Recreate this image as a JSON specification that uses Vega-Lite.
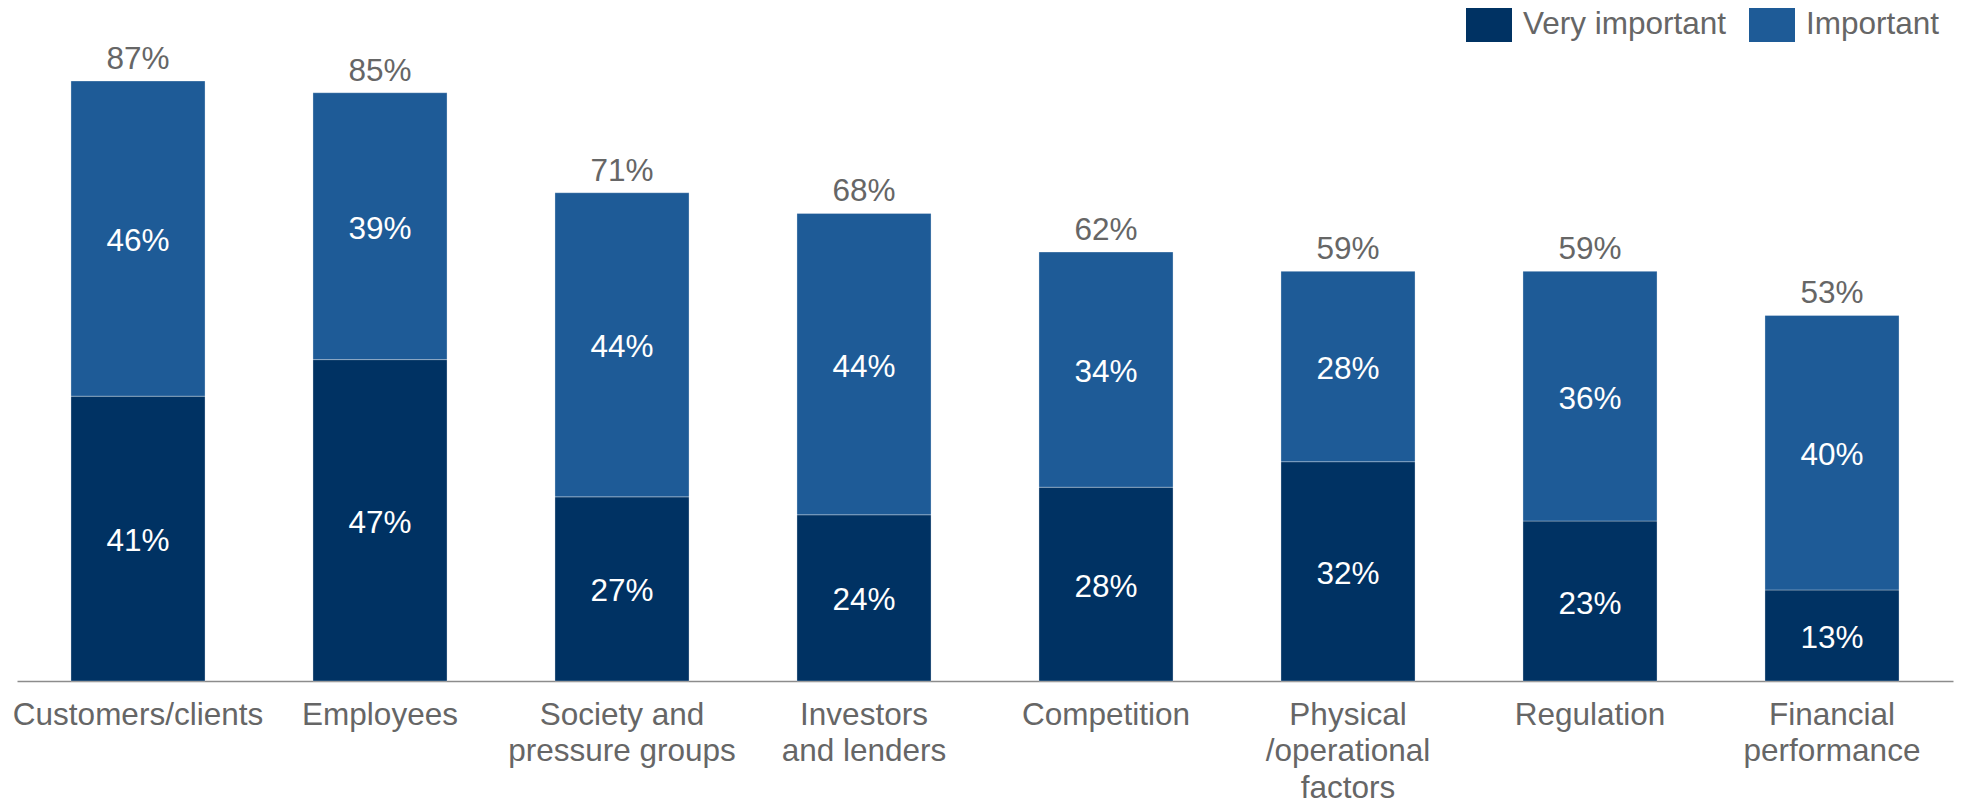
{
  "$schema": "https://vega.github.io/schema/vega-lite/v6.json",
  "width": 1936,
  "height": 600,
  "autosize": {"type": "none"},
  "padding": {"left": 17, "top": 81, "right": 9, "bottom": 122},
  "background": "white",
  "config": {"view": {"stroke": null}, "font": "Liberation Sans"},
  "data": {
    "values": [
      {"category": "Customers/clients", "level": "Very important", "rank": 1, "value": 0.413},
      {"category": "Customers/clients", "level": "Important", "rank": 2, "value": 0.457},
      {"category": "Employees", "level": "Very important", "rank": 1, "value": 0.466},
      {"category": "Employees", "level": "Important", "rank": 2, "value": 0.387},
      {"category": "Society and pressure groups", "level": "Very important", "rank": 1, "value": 0.267},
      {"category": "Society and pressure groups", "level": "Important", "rank": 2, "value": 0.441},
      {"category": "Investors and lenders", "level": "Very important", "rank": 1, "value": 0.241},
      {"category": "Investors and lenders", "level": "Important", "rank": 2, "value": 0.437},
      {"category": "Competition", "level": "Very important", "rank": 1, "value": 0.281},
      {"category": "Competition", "level": "Important", "rank": 2, "value": 0.341},
      {"category": "Physical/operational factors", "level": "Very important", "rank": 1, "value": 0.318},
      {"category": "Physical/operational factors", "level": "Important", "rank": 2, "value": 0.276},
      {"category": "Regulation", "level": "Very important", "rank": 1, "value": 0.232},
      {"category": "Regulation", "level": "Important", "rank": 2, "value": 0.362},
      {"category": "Financial performance", "level": "Very important", "rank": 1, "value": 0.132},
      {"category": "Financial performance", "level": "Important", "rank": 2, "value": 0.398}
    ]
  },
  "encoding": {
    "x": {
      "field": "category",
      "type": "nominal",
      "sort": null,
      "scale": {"paddingInner": 0.446, "paddingOuter": 0.223},
      "axis": {
        "title": null,
        "labelAngle": 0,
        "ticks": false,
        "tickSize": 0,
        "domainColor": "#8c8c8c",
        "domainWidth": 1.5,
        "labelFont": "Liberation Sans",
        "labelFontSize": 31.5,
        "labelColor": "#666666",
        "labelPadding": 18,
        "labelLineHeight": 36.5,
        "labelBaseline": "top",
        "labelLimit": 1000,
        "labelOverlap": false,
        "labelExpr": "datum.value == 'Society and pressure groups' ? ['Society and', 'pressure groups'] : datum.value == 'Investors and lenders' ? ['Investors', 'and lenders'] : datum.value == 'Physical/operational factors' ? ['Physical', '/operational', 'factors'] : datum.value == 'Financial performance' ? ['Financial', 'performance'] : datum.label"
      }
    }
  },
  "layer": [
    {
      "mark": {"type": "bar", "stroke": "#ffffff", "strokeOpacity": 0.3, "strokeWidth": 1},
      "encoding": {
        "y": {
          "field": "value",
          "type": "quantitative",
          "stack": "zero",
          "scale": {"domain": [0, 0.87], "nice": false},
          "axis": null
        },
        "color": {
          "field": "level",
          "type": "nominal",
          "scale": {"domain": ["Very important", "Important"], "range": ["#003263", "#1E5B97"]},
          "legend": {
            "orient": "none",
            "legendX": 1449,
            "legendY": -79,
            "direction": "horizontal",
            "title": null,
            "symbolType": "M-1,-0.739H1V0.739H-1Z",
            "symbolSize": 2116,
            "symbolStrokeWidth": 0,
            "symbolOpacity": 1,
            "labelFont": "Liberation Sans",
            "labelFontSize": 31.5,
            "labelColor": "#666666",
            "labelOffset": 11,
            "columnPadding": 22,
            "labelLimit": 1000
          }
        },
        "order": {"field": "rank", "type": "quantitative"}
      }
    },
    {
      "mark": {"type": "text", "color": "#ffffff", "fontSize": 31.5, "baseline": "middle", "dy": 3.5},
      "encoding": {
        "y": {"field": "value", "type": "quantitative", "stack": "zero", "bandPosition": 0.5},
        "detail": {"field": "level"},
        "order": {"field": "rank", "type": "quantitative"},
        "text": {"field": "value", "type": "quantitative", "format": ".0%"}
      }
    },
    {
      "mark": {"type": "text", "color": "#666666", "fontSize": 31.5, "baseline": "alphabetic", "dy": -12},
      "encoding": {
        "y": {"aggregate": "sum", "field": "value", "type": "quantitative"},
        "text": {"aggregate": "sum", "field": "value", "type": "quantitative", "format": ".0%"}
      }
    }
  ]
}
